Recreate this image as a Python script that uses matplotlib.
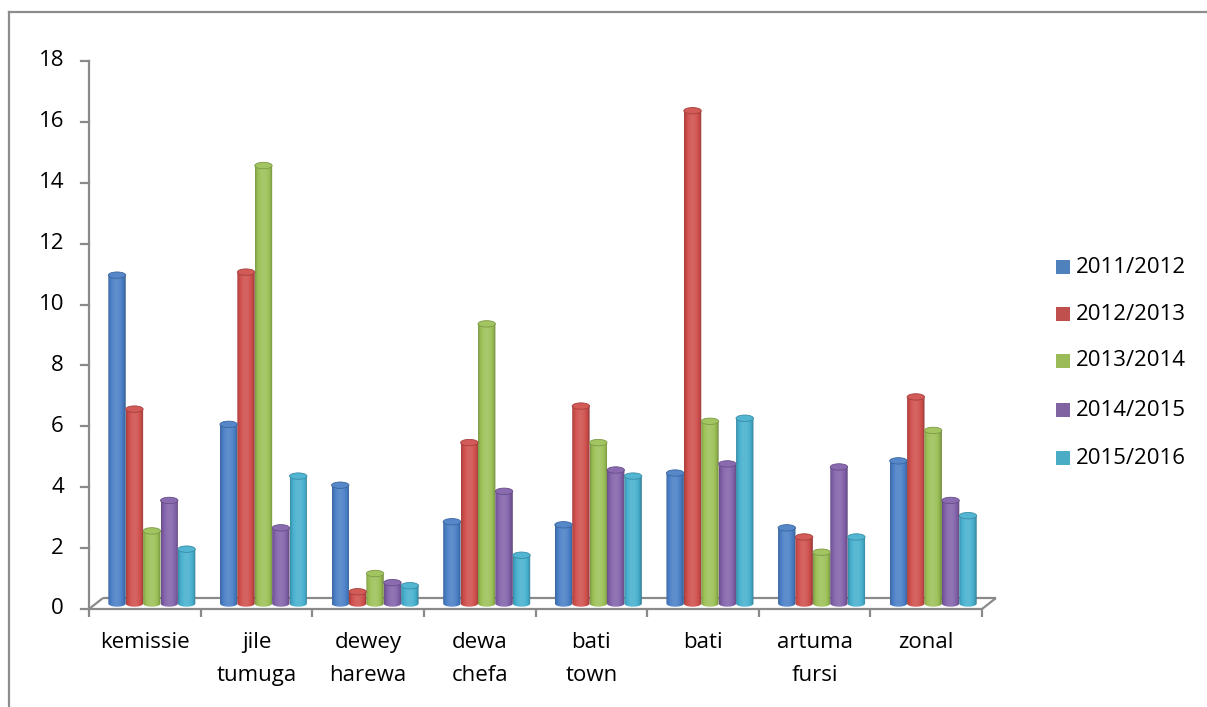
import numpy as np
import matplotlib
matplotlib.use("Agg")
import matplotlib.pyplot as plt
from matplotlib.patches import Ellipse, Polygon, Rectangle
from matplotlib.lines import Line2D

# ---- data -------------------------------------------------------------
categories = ["kemissie", "jile\ntumuga", "dewey\nharewa", "dewa\nchefa",
              "bati\ntown", "bati", "artuma\nfursi", "zonal"]
series_names = ["2011/2012", "2012/2013", "2013/2014", "2014/2015", "2015/2016"]
s2011 = [10.9, 6.0, 4.0, 2.8, 2.7, 4.4, 2.6, 4.8]
s2012 = [6.5, 11.0, 0.5, 5.4, 6.6, 16.3, 2.3, 6.9]
s2013 = [2.5, 14.5, 1.1, 9.3, 5.4, 6.1, 1.8, 5.8]
s2014 = [3.5, 2.6, 0.8, 3.8, 4.5, 4.7, 4.6, 3.5]
s2015 = [1.9, 4.3, 0.7, 1.7, 4.3, 6.2, 2.3, 3.0]
series_values = [s2011, s2012, s2013, s2014, s2015]
y_ticks = [0, 2, 4, 6, 8, 10, 12, 14, 16, 18]

colors = ["#4a7fc6", "#cf4f4c", "#9cc057", "#8262aa", "#47b0cf"]
legend_colors = ["#4f81bd", "#c0504d", "#9bbb59", "#8064a2", "#4bacc6"]

# ---- figure / axes ----------------------------------------------------
W, H = 1207, 707
fig = plt.figure(figsize=(W / 100, H / 100), dpi=100)
fig.patch.set_facecolor("white")

ax_left, ax_right = 89, 982      # pixel columns of category 0 and 8
ax_bot, ax_top = 609, 61         # pixel rows of value 0 and 18
ax = fig.add_axes([ax_left / W, 1 - ax_bot / H,
                   (ax_right - ax_left) / W, (ax_bot - ax_top) / H])
ncat = len(categories)
ax.set_xlim(0, ncat)
ax.set_ylim(0, 18)
ax.axis("off")

px_x = ncat / (ax_right - ax_left)       # category units per pixel
px_y = 18 / (ax_bot - ax_top)            # value units per pixel

FONT = ["Open Sans", "DejaVu Sans"]
FS = 16
grey = "#8a8a8a"

# floor depth of the 3-D box
dx = 14 * px_x
dy = 11 * px_y

# chart border (left and top)
fig.add_artist(Line2D([9 / W, 9 / W], [0, 1 - 12 / H], transform=fig.transFigure,
                      color="#8c8c8c", lw=1.6))
fig.add_artist(Line2D([9 / W, 1], [1 - 12 / H, 1 - 12 / H], transform=fig.transFigure,
                      color="#8c8c8c", lw=1.6))

# value axis line, ticks and labels
ax.plot([0, 0], [0, 18], color=grey, lw=1.6, clip_on=False, zorder=2)
for t in y_ticks:
    ax.plot([-8 * px_x, 0], [t, t], color=grey, lw=1.6, clip_on=False, zorder=2)
    ax.text(-25 * px_x, t, str(t), ha="right", va="center", fontsize=FS,
            family=FONT, color="black")

# floor outline
floor_kw = dict(color=grey, lw=1.6, clip_on=False, zorder=1, solid_capstyle="butt")
ax.plot([0, ncat], [0, 0], **floor_kw)
ax.plot([0, dx], [0, dy], **floor_kw)
ax.plot([dx, ncat + dx], [dy, dy], **floor_kw)
ax.plot([ncat, ncat + dx], [0, dy], **floor_kw)
for i in range(ncat + 1):
    ax.plot([i, i], [0, -8 * px_y], **floor_kw)

# category labels
for i, name in enumerate(categories):
    ax.text(i + 0.5, -23 * px_y, name, ha="center", va="top", fontsize=FS,
            family=FONT, linespacing=1.72, color="black")


def shade(rgb, f):
    rgb = np.asarray(rgb, dtype=float)
    if f >= 1:
        return rgb + (1 - rgb) * (f - 1)
    return rgb * f


# cylinders
bw = 17.4 * px_x
eh = 3.2 * px_y
base = dy / 2 - 3.5 * px_y
nser = len(series_values)
tt = np.linspace(0, 1, 64)
prof = 0.78 + 0.34 * np.sin(np.pi * np.clip(tt * 1.05, 0, 1)) ** 0.7
prof[-6:] *= np.linspace(1.0, 0.9, 6)
for j, vals in enumerate(series_values):
    rgb = np.array(matplotlib.colors.to_rgb(colors[j]))
    grad = np.array([shade(rgb, f) for f in prof])
    grad = np.clip(grad, 0, 1)[None, :, :]
    for i, v in enumerate(vals):
        xc = i + 0.5 + dx / 2 + (j - (nser - 1) / 2) * bw
        x0, x1 = xc - bw / 2, xc + bw / 2
        top = base + v
        bottom = dy / 2
        th = np.linspace(np.pi, 2 * np.pi, 30)
        arc = np.column_stack([xc + bw / 2 * np.cos(th), bottom + eh * np.sin(th)])
        pts = np.vstack([[x0, top], arc, [x1, top]])
        clip = Polygon(pts, closed=True, transform=ax.transData,
                       facecolor="none", edgecolor="none")
        ax.add_patch(clip)
        im = ax.imshow(grad, extent=[x0, x1, bottom - eh, top], aspect="auto",
                       interpolation="bilinear", zorder=3 + i * 0.01)
        im.set_clip_path(clip)
        cap = Ellipse((xc, top), bw, 2 * eh, facecolor=shade(rgb, 1.06),
                      edgecolor=shade(rgb, 0.8), lw=0.6, zorder=3.5 + i * 0.01)
        ax.add_patch(cap)

ax.set_xlim(0, ncat)
ax.set_ylim(0, 18)

# legend
leg_y = [267, 314, 361, 410, 458]
for j, name in enumerate(series_names):
    yp = leg_y[j]
    fig.add_artist(Rectangle((1056 / W, 1 - (yp + 7) / H), 14 / W, 14 / H,
                             transform=fig.transFigure,
                             facecolor=legend_colors[j], edgecolor="none"))
    fig.text(1076 / W, 1 - yp / H, name, ha="left", va="center",
             fontsize=FS, family=FONT, color="black")

fig.savefig("out.png", dpi=100, facecolor="white")
